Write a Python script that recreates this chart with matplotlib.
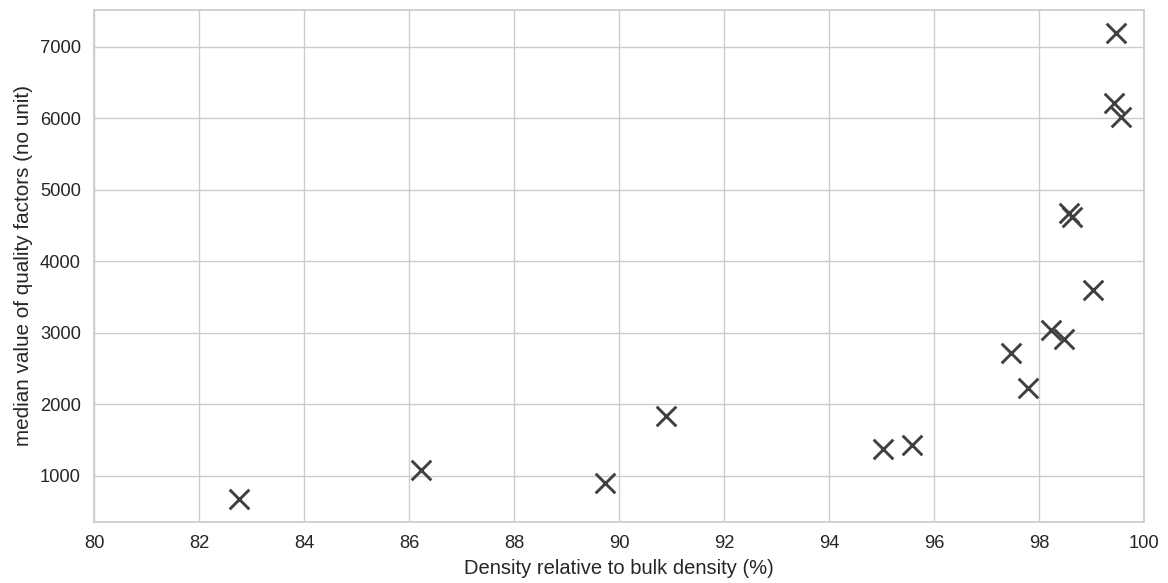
import matplotlib
matplotlib.use("Agg")
import matplotlib.pyplot as plt
import seaborn as sns

density = [82.77, 86.23, 89.73, 90.90, 95.02, 95.58, 97.46, 97.79, 98.22, 98.48,
           99.02, 98.58, 98.62, 99.46, 99.42, 99.56]
quality = [680, 1085, 905, 1832, 1369, 1425, 2711, 2229, 3038, 2912,
           3600, 4676, 4620, 7188, 6220, 6023]

sns.set_theme(style="whitegrid")
plt.rcParams['font.family'] = ['Liberation Sans', 'DejaVu Sans']

fig = plt.figure(figsize=(11.68, 5.83), dpi=100)
ax = fig.add_axes([94/1168, 1-522/583, (1144-94)/1168, (522-10)/583])
ax.scatter(density, quality, marker='x', s=200, linewidths=2.1, color='#404040', zorder=3)
ax.set_xlim(80, 100)
ax.set_xticks(range(80, 101, 2))
ax.set_yticks(range(1000, 7001, 1000))
ax.tick_params(labelsize=13.2, colors='#262626')
ax.set_xlabel("Density relative to bulk density (%)", fontsize=14.5, labelpad=5)
ax.set_ylabel("median value of quality factors (no unit)", fontsize=14.9, labelpad=5)
fig.savefig("out.png", dpi=100)
